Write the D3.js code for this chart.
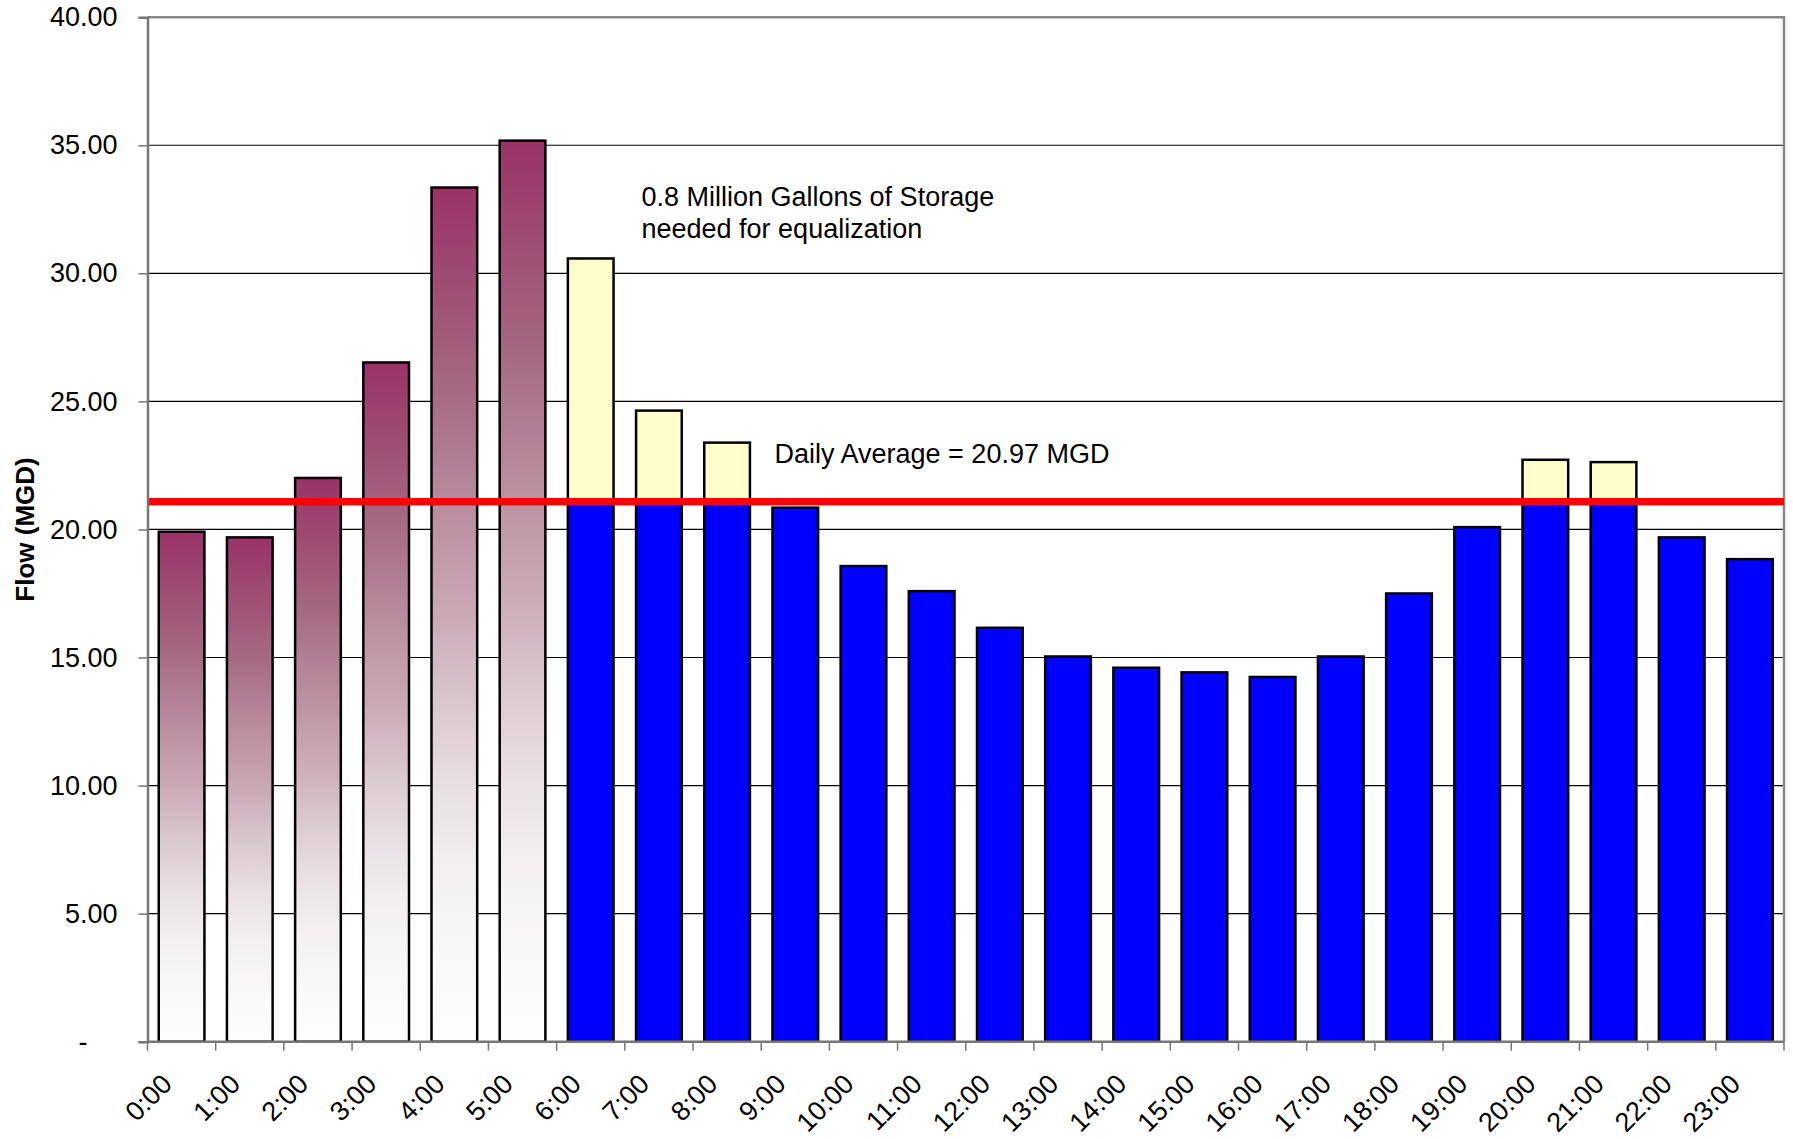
<!DOCTYPE html>
<html><head><meta charset="utf-8">
<script src="https://cdn.jsdelivr.net/npm/d3@7"></script>
<style>html,body{margin:0;padding:0;background:#fff;} svg{display:block;font-family:"Liberation Sans",Arial,Helvetica,sans-serif;}</style>
</head><body><svg id="chart" width="1793" height="1139"></svg>
<script>
// ---- data ----
const hours = ["0:00","1:00","2:00","3:00","4:00","5:00","6:00","7:00","8:00","9:00","10:00","11:00",
  "12:00","13:00","14:00","15:00","16:00","17:00","18:00","19:00","20:00","21:00","22:00","23:00"];
const flowMGD = [19.91,19.69,22.01,26.52,33.35,35.18,30.58,24.64,23.39,20.85,18.57,17.59,
  16.16,15.04,14.60,14.42,14.24,15.04,17.50,20.09,22.72,22.63,19.69,18.84];
const storageFillHours = ["0:00","1:00","2:00","3:00","4:00","5:00"];
const dailyAverageMGD = 20.97;
const averageLineLevel = 21.08;   // level at which the red line is drawn in the reference
const yTickValues = [0,5,10,15,20,25,30,35,40];
const yAxisTitle = "Flow (MGD)";
const storageNote = ["0.8 Million Gallons of Storage","needed for equalization"];
const averageNote = "Daily Average = " + dailyAverageMGD.toFixed(2) + " MGD";

// ---- layout ----
const W = 1793, H = 1139;
const margin = {top: 17.2, right: 9, bottom: 97.3, left: 147.5};
const svg = d3.select("#chart");
const FS = 27;

const x = d3.scaleBand().domain(hours).range([margin.left, W - margin.right]).paddingInner(0.33).paddingOuter(0.165);
const y = d3.scaleLinear().domain([0, 40]).range([H - margin.bottom, margin.top]);
const x0 = margin.left, x1 = W - margin.right, yb = y(0), yt = y(40);

// gradient for storage-fill bars
const defs = svg.append("defs");
const grad = defs.append("linearGradient").attr("id","plum").attr("x1",0).attr("y1",0).attr("x2",0).attr("y2",1);
[[0,"#993366"],[0.25,"#a66d84"],[0.4,"#bd92a3"],[0.5,"#caa9b6"],[0.6,"#d9c6cd"],[0.7,"#e8dfe3"],[0.8,"#f3eff1"],[0.9,"#f9f8f9"],[1,"#fefefe"]]
  .forEach(([o,c]) => grad.append("stop").attr("offset",o).attr("stop-color",c));

// gridlines
svg.append("g").selectAll("line").data(yTickValues.filter(v => v > 0 && v < 40)).join("line")
  .attr("x1", x0).attr("x2", x1).attr("y1", d => y(d)).attr("y2", d => y(d))
  .attr("stroke", "#000").attr("stroke-width", 1.2);

// plot border top/right
svg.append("path").attr("d", `M${x0},${yt}H${x1}V${yb}`).attr("fill","none").attr("stroke","#888").attr("stroke-width",2.5);

// bars
const data = hours.map((h,i) => ({h, v: flowMGD[i], fill: storageFillHours.includes(h)}));
const barG = svg.append("g").attr("stroke","#000").attr("stroke-width",2.5);
data.forEach(d => {
  if (d.fill) {
    barG.append("rect").attr("x", x(d.h)).attr("width", x.bandwidth())
      .attr("y", y(d.v)).attr("height", yb - y(d.v)).attr("fill","url(#plum)");
  } else {
    const base = Math.min(d.v, averageLineLevel);
    barG.append("rect").attr("x", x(d.h)).attr("width", x.bandwidth())
      .attr("y", y(base)).attr("height", yb - y(base)).attr("fill","#0000ff");
    if (d.v > averageLineLevel) {
      barG.append("rect").attr("x", x(d.h)).attr("width", x.bandwidth())
        .attr("y", y(d.v)).attr("height", y(averageLineLevel) - y(d.v)).attr("fill","#ffffcc");
    }
  }
});

// average line
svg.append("line").attr("x1", x0).attr("x2", x1).attr("y1", y(averageLineLevel)).attr("y2", y(averageLineLevel))
  .attr("stroke","#ff0000").attr("stroke-width",7.5);

// y axis
const yAxis = d3.axisLeft(y).tickValues(yTickValues).tickSize(9).tickPadding(21)
  .tickFormat(d => d === 0 ? "-\u2007\u2007" : d.toFixed(2));
const gy = svg.append("g").attr("transform", `translate(${x0},0)`).call(yAxis);
gy.select(".domain").attr("stroke","#777").attr("stroke-width",2.5);
gy.selectAll(".tick line").attr("stroke","#777").attr("stroke-width",1.5);
gy.selectAll("text").attr("font-size",FS).attr("fill","#000").attr("font-family",null);

// x axis: boundary ticks
const xAxisLine = svg.append("g");
xAxisLine.append("line").attr("x1",x0).attr("x2",x1).attr("y1",yb).attr("y2",yb).attr("stroke","#777").attr("stroke-width",2.5);
const bounds = hours.map(h => x(h) - x.step()*x.paddingInner()/2).concat([x1]);
xAxisLine.selectAll("line.tk").data(bounds).join("line").attr("class","tk")
  .attr("x1", d => d).attr("x2", d => d).attr("y1", yb).attr("y2", yb + 9)
  .attr("stroke","#777").attr("stroke-width",1.5);

// x labels
svg.append("g").selectAll("text").data(hours).join("text")
  .attr("transform", d => `translate(${x(d) + x.bandwidth()/2 - 8},${yb + 44}) rotate(-45)`)
  .attr("text-anchor","end").attr("font-size",FS).attr("fill","#000").text(d => d);

// y axis title
svg.append("text").attr("transform", `translate(34,${(yt+yb)/2}) rotate(-90)`)
  .attr("text-anchor","middle").attr("font-size",26).attr("font-weight","bold").text(yAxisTitle);

// annotations
svg.append("text").attr("x", 641.5).attr("y", 206).attr("font-size",FS)
  .selectAll("tspan").data(storageNote).join("tspan").attr("x",641.5).attr("dy",(d,i)=> i ? 32.3 : 0).text(d => d);
svg.append("text").attr("x", 774.5).attr("y", 463.3).attr("font-size",FS).text(averageNote);
</script></body></html>
